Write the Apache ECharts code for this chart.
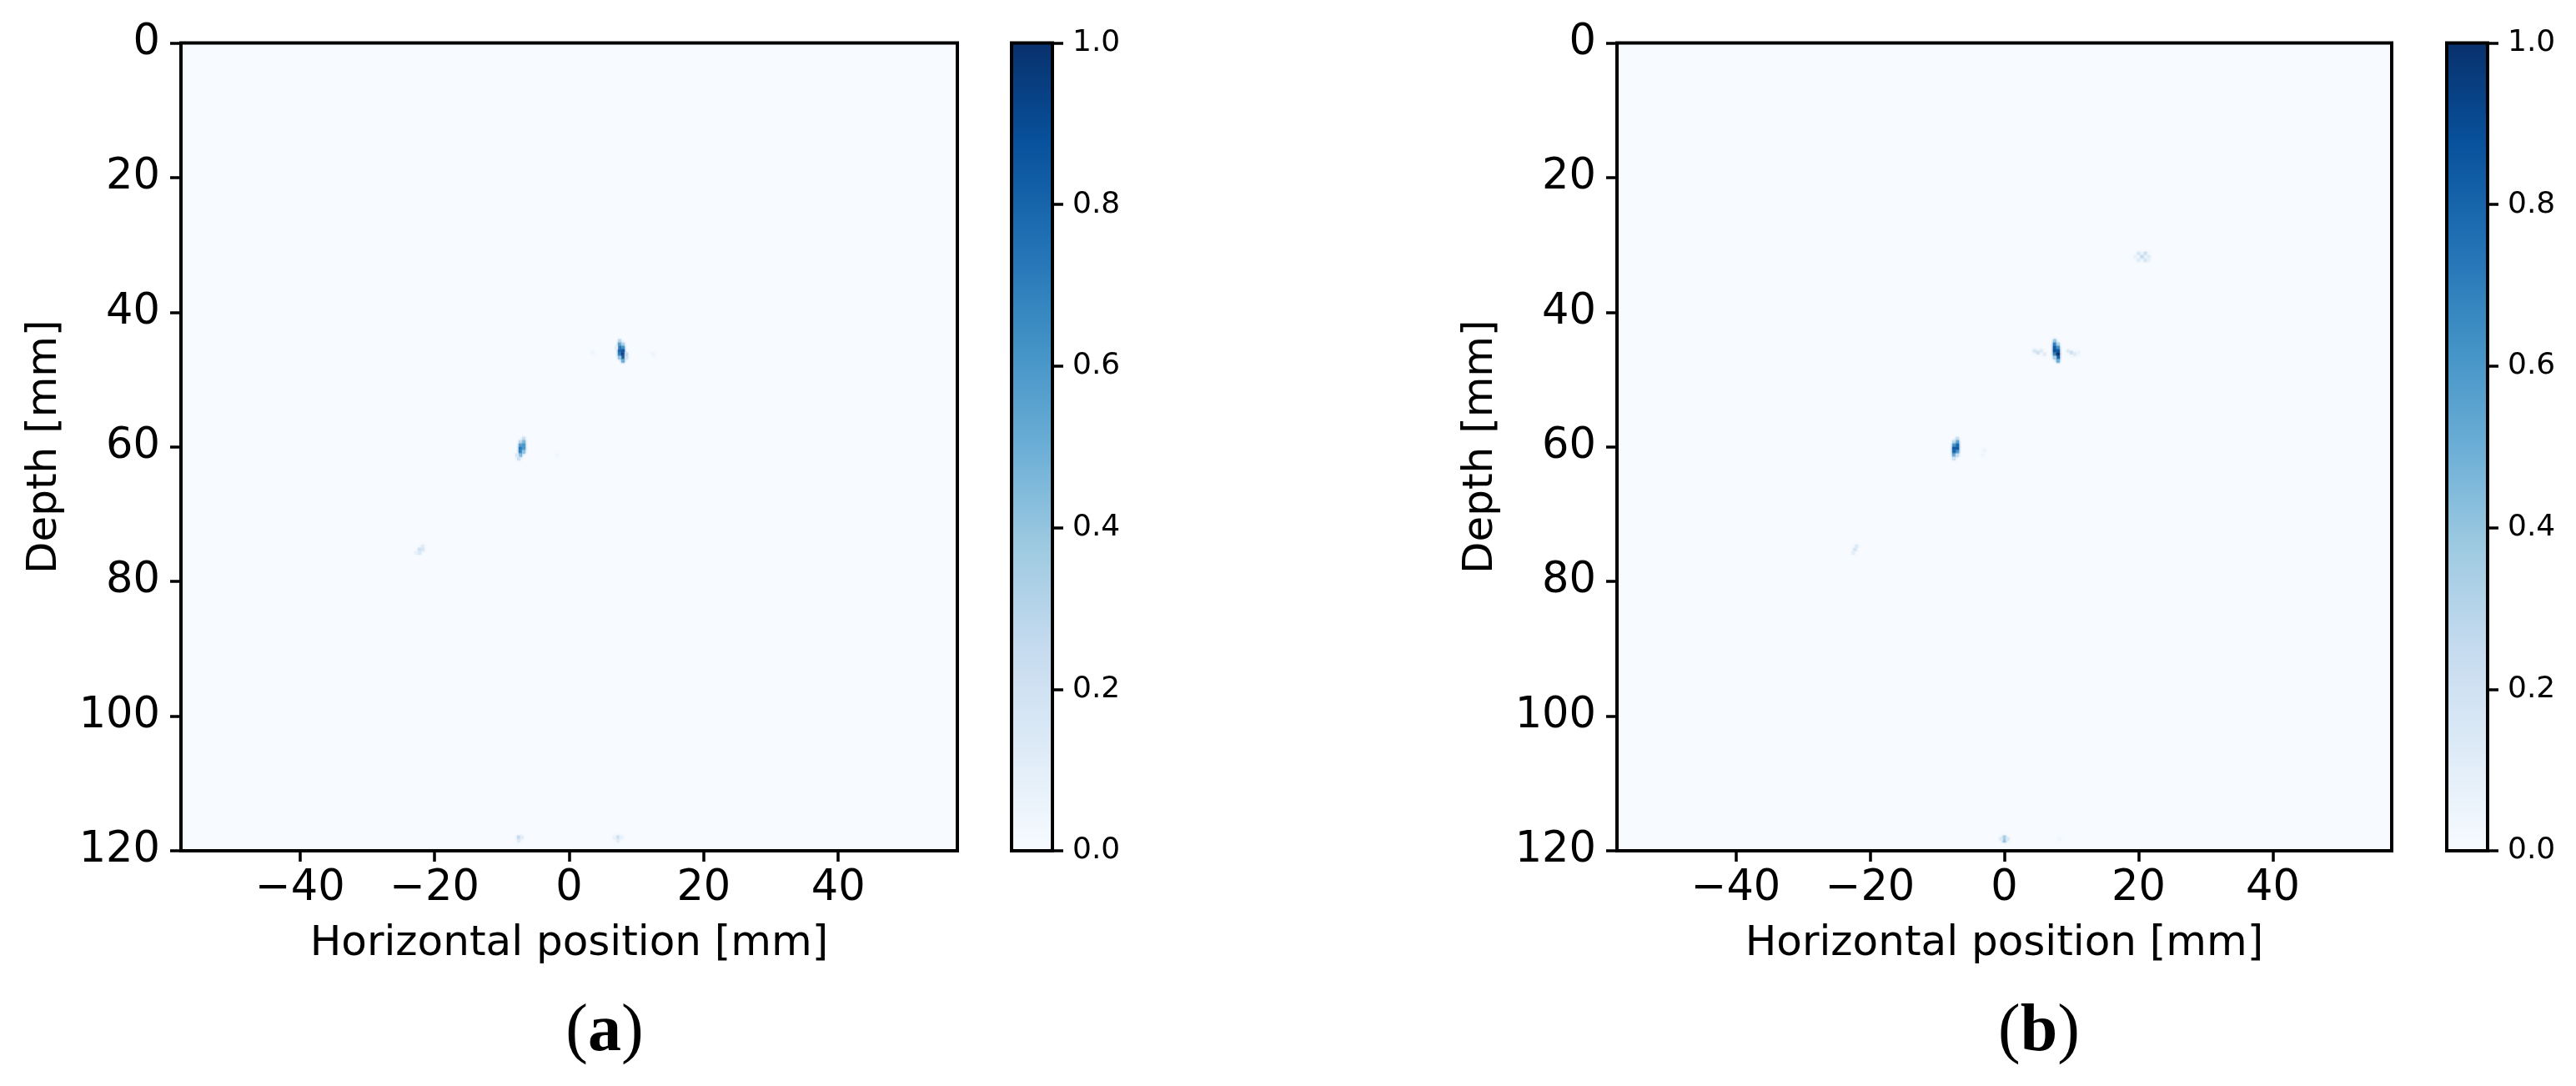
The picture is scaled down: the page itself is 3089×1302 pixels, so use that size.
<!DOCTYPE html>
<html>
<head>
<meta charset="utf-8">
<script src="https://cdn.jsdelivr.net/npm/echarts@6/dist/echarts.min.js"></script>
<style>
  html, body { margin: 0; padding: 0; background: #ffffff; }
  #chart { width: 3089px; height: 1302px; }
</style>
</head>
<body>
<div id="chart"></div>
<script>
// ---------------- data ----------------
// axis ranges (mm)
const xRange = [-57.7, 57.7];
const yRange = [0, 120];
const xTicks = [-40, -20, 0, 20, 40];
const yTickStep = 20;
const cbTickStep = 0.2;
// image cell size (mm)
const cellSize = 0.5;

// panel (a): [x mm, depth mm, normalised amplitude]
const blobA1 = [[7.5,44.25,0.25],[7.5,44.75,0.55],[8.0,44.75,0.3],[7.5,45.25,0.75],[8.0,45.25,0.6],
  [7.5,45.75,0.8],[8.0,45.75,0.85],[7.5,46.25,0.7],[8.0,46.25,0.95],[8.5,46.25,0.25],
  [8.0,46.75,0.9],[7.5,46.75,0.4],[8.0,47.25,0.5],[8.5,46.75,0.2],[7.0,45.25,0.1]];
const blobA1Lobes = [[3.5,46.0,0.05],[12.5,46.25,0.06]];
const blobA2 = [[-6.75,58.75,0.2],[-6.75,59.25,0.45],[-7.25,59.25,0.25],[-6.75,59.75,0.6],[-7.25,59.75,0.55],
  [-7.25,60.25,0.72],[-6.75,60.25,0.6],[-7.25,60.75,0.7],[-6.75,60.75,0.4],[-7.25,61.25,0.45],
  [-7.75,61.25,0.15],[-7.5,61.75,0.2]];
const blobA2Faint = [[-1.75,61.25,0.04]];
const blobA3 = [[-21.75,74.75,0.1],[-21.75,75.25,0.15],[-22.25,75.25,0.2],[-22.25,75.75,0.14],[-22.75,75.75,0.07]];
const blobA4 = [[-7.5,118.0,0.25],[-7.0,118.0,0.1],[-7.5,118.5,0.12]];
const blobA5 = [[7.25,118.0,0.22],[6.75,118.0,0.07],[7.75,118.0,0.08],[7.25,118.5,0.1]];

// panel (b)
const blobB1 = [[20.0,31.25,0.15],[21.0,31.25,0.2],[20.5,31.75,0.25],[21.0,32.25,0.18],[20.0,32.25,0.12],
  [21.5,31.75,0.12],[19.5,31.75,0.07],[21.5,32.25,0.08]];
const blobB2 = [[7.5,44.25,0.35],[7.5,44.75,0.7],[8.0,44.75,0.3],[7.5,45.25,0.85],[8.0,45.25,0.6],
  [7.5,45.75,0.9],[8.0,45.75,0.85],[7.5,46.25,0.7],[8.0,46.25,1.0],[8.0,46.75,0.85],
  [7.5,46.75,0.35],[8.0,47.25,0.5]];
const blobB2Lobes = [[4.5,45.75,0.15],[5.0,46.0,0.2],[5.5,45.75,0.12],[6.0,46.25,0.1],
  [9.5,45.75,0.12],[10.0,46.0,0.2],[10.5,46.25,0.12],[11.0,46.0,0.06]];
const blobB3 = [[-7.0,58.75,0.2],[-7.0,59.25,0.55],[-7.5,59.25,0.25],[-7.0,59.75,0.8],[-7.5,59.75,0.6],
  [-7.0,60.25,0.85],[-7.5,60.25,0.85],[-7.0,60.75,0.6],[-7.5,60.75,0.8],[-7.5,61.25,0.55],
  [-7.0,61.25,0.25],[-7.5,61.75,0.2]];
const blobB3Faint = [[-3.0,60.5,0.06],[-3.25,61.25,0.05]];
const blobB4 = [[-22.0,74.75,0.12],[-22.25,75.25,0.17],[-22.5,75.75,0.1]];
const blobB5 = [[0.0,118.0,0.35],[0.0,118.5,0.4],[-0.5,118.25,0.12],[0.5,118.25,0.15]];
const blobB6 = [[8.25,118.25,0.04]];

const imageA = [].concat(blobA1, blobA1Lobes, blobA2, blobA2Faint, blobA3, blobA4, blobA5);
const imageB = [].concat(blobB1, blobB2, blobB2Lobes, blobB3, blobB3Faint, blobB4, blobB5, blobB6);

// colour bar range
const cbRange = [0, 1];
const xTitle = 'Horizontal position [mm]';
const yTitle = 'Depth [mm]';
const captionLetters = ['a', 'b'];

// ---------------- styling ----------------
const blues = ['#f7fbff','#deebf7','#c6dbef','#9ecae1','#6baed6','#4292c6','#2171b5','#08519c','#08306b'];
const FONT = 'DejaVu Sans';
const minus = v => String(v).replace('-', '\u2212');

const chart = echarts.init(document.getElementById('chart'), null, { renderer: 'canvas' });

const plotTop = 51.5, plotH = 968.5;
const panels = [
  { left: 217, width: 931, cbLeft: 1213, cap: 725 },
  { left: 1939, width: 929, cbLeft: 2934, cap: 2445 }
];
const cbW = 49;

const grids = [], xAxes = [], yAxes = [], series = [];
const tickStyle = { show: true, inside: false, length: 13, lineStyle: { color: '#000', width: 3.5 } };

function imageRender(params, api) {
  const x = api.value(0), y = api.value(1);
  const p1 = api.coord([x - cellSize / 2, y - cellSize / 2]);
  const p2 = api.coord([x + cellSize / 2, y + cellSize / 2]);
  return {
    type: 'rect',
    shape: { x: Math.min(p1[0], p2[0]), y: Math.min(p1[1], p2[1]),
             width: Math.abs(p2[0] - p1[0]), height: Math.abs(p2[1] - p1[1]) },
    style: { fill: api.visual('color'), shadowBlur: 3, shadowColor: api.visual('color') }
  };
}

function colorbarRender(params, api) {
  const pTop = api.coord([0, cbRange[1]]);
  const pBot = api.coord([1, cbRange[0]]);
  const stops = blues.map((c, i) => ({ offset: i / (blues.length - 1), color: blues[blues.length - 1 - i] }));
  return {
    type: 'rect',
    shape: { x: pTop[0], y: pTop[1], width: pBot[0] - pTop[0], height: pBot[1] - pTop[1] },
    style: {
      fill: new echarts.graphic.LinearGradient(0, 0, 0, 1, stops),
      stroke: '#000', lineWidth: 4
    }
  };
}

panels.forEach((p, i) => {
  const gi = grids.length;
  grids.push({ left: p.left, top: plotTop, width: p.width, height: plotH,
    show: true, backgroundColor: blues[0], borderColor: '#000', borderWidth: 4 });
  xAxes.push({
    gridIndex: gi, type: 'value', position: 'bottom', min: xRange[0], max: xRange[1],
    axisLine: { show: false, onZero: false }, splitLine: { show: false },
    axisTick: Object.assign({ customValues: xTicks }, tickStyle),
    axisLabel: { customValues: xTicks, formatter: minus, fontSize: 51, fontFamily: FONT, color: '#000', margin: 20 },
    name: xTitle, nameLocation: 'middle', nameGap: 87,
    nameTextStyle: { fontSize: 50, fontFamily: FONT, color: '#000', verticalAlign: 'top' }
  });
  yAxes.push({
    gridIndex: gi, type: 'value', position: 'left', inverse: true, min: yRange[0], max: yRange[1], interval: yTickStep,
    axisLine: { show: false, onZero: false }, splitLine: { show: false },
    axisTick: tickStyle,
    axisLabel: { fontSize: 51, fontFamily: FONT, color: '#000', margin: 25 },
    name: yTitle, nameLocation: 'middle', nameGap: 138,
    nameTextStyle: { fontSize: 50, fontFamily: FONT, color: '#000' }
  });
  series.push({
    type: 'custom', name: 'image' + i, xAxisIndex: gi, yAxisIndex: gi,
    data: i === 0 ? imageA : imageB, renderItem: imageRender, clip: true,
    encode: { x: 0, y: 1 }, silent: true
  });

  const ci = grids.length;
  grids.push({ left: p.cbLeft, top: plotTop, width: cbW, height: plotH, show: false });
  xAxes.push({ gridIndex: ci, type: 'value', min: 0, max: 1, show: false });
  yAxes.push({
    gridIndex: ci, type: 'value', position: 'right', min: cbRange[0], max: cbRange[1], interval: cbTickStep,
    axisLine: { show: false, onZero: false }, splitLine: { show: false },
    axisTick: tickStyle,
    axisLabel: { formatter: v => v.toFixed(1), fontSize: 36, fontFamily: FONT, color: '#000', margin: 24 }
  });
  series.push({
    type: 'custom', name: 'colorbar' + i, xAxisIndex: ci, yAxisIndex: ci,
    data: [[0, cbRange[0]]], renderItem: colorbarRender, silent: true, z: 1
  });
});

const option = {
  backgroundColor: '#ffffff',
  animation: false,
  grid: grids,
  xAxis: xAxes,
  yAxis: yAxes,
  visualMap: {
    type: 'continuous', show: false, min: cbRange[0], max: cbRange[1], dimension: 2,
    seriesIndex: [0, 2], inRange: { color: blues }
  },
  graphic: panels.map((p, i) => ({
    type: 'text', x: p.cap, y: 1238, silent: true,
    style: {
      text: '{p|(}{b|' + captionLetters[i] + '}{p|)}',
      textAlign: 'center', textVerticalAlign: 'middle', fill: '#000',
      rich: {
        p: { font: '80px "Liberation Serif", serif', fill: '#000' },
        b: { font: 'bold 80px "Liberation Serif", serif', fill: '#000' }
      }
    }
  })),
  series: series
};
chart.setOption(option);
</script>
</body>
</html>
